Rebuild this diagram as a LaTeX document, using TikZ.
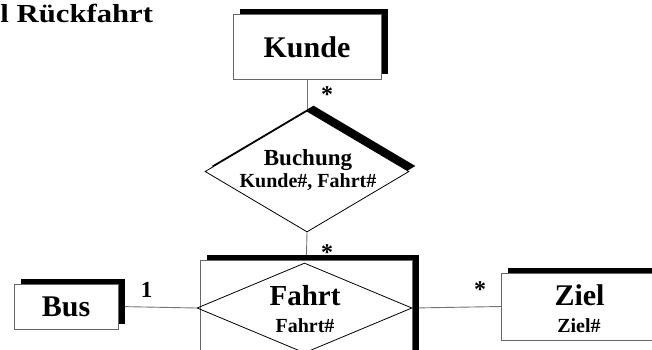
\documentclass[tikz,border=0pt]{standalone}
\usepackage{fontspec}
\setmainfont{Liberation Serif}
\usetikzlibrary{shapes.geometric,shadows,backgrounds}

\newcommand{\fsz}[1]{\fontsize{#1}{#1}\selectfont\bfseries}

\tikzset{
  hardshadow/.style={drop shadow={shadow xshift=6.5pt, shadow yshift=5.5pt,
      fill=black, opacity=1}},
  entity/.style={rectangle, draw=black!60, line width=0.9pt, fill=white,
      inner sep=0pt, hardshadow},
  relation/.style={diamond, draw=black, line width=0.8pt, fill=white,
      inner sep=0pt},
  conn/.style={draw=black!55, line width=0.9pt},
  lbl/.style={inner sep=0pt, anchor=base},
}

\begin{document}
\begin{tikzpicture}[x=1pt, y=-1pt]
  \useasboundingbox (0,0) rectangle (652,349);

  % heading
  \node[lbl, anchor=base west] (title) at (0.3,22.5)
    {\scalebox{1.18}[1]{\fsz{26}l Rückfahrt}};

  % entities
  \node[entity, minimum width=148pt, minimum height=65pt] (kunde) at (307,46.5) {};
  \node[entity, minimum width=104pt, minimum height=45pt] (bus) at (66,306.5) {};
  \node[entity, minimum width=156pt, minimum height=67pt] (ziel) at (579.7,306.5) {};
  \node[entity, minimum width=211.3pt, minimum height=139.3pt] (fahrtbox) at (306.35,330.35) {};

  % relationships
  \node[relation, hardshadow, minimum width=204pt, minimum height=121pt] (buchung) at (307,171.5) {};
  \node[relation, fill=none, minimum width=215pt, minimum height=90pt] (fahrt) at (304.5,308) {};

  % texts
  \node[lbl] (kundetxt) at (307,57) {\fsz{30}Kunde};
  \node[lbl] (bustxt) at (66,316) {\fsz{30}Bus};
  \node[lbl] (zieltxt) at (579.5,305) {\fsz{30}Ziel};
  \node[lbl] (zielkey) at (579,332) {\fsz{20}Ziel\#};
  \node[lbl] (buchungtxt) at (308,165) {\fsz{23}Buchung};
  \node[lbl] (buchungkey) at (308,187) {\fsz{20}Kunde\#, Fahrt\#};
  \node[lbl] (fahrttxt) at (305,305) {\fsz{29}Fahrt};
  \node[lbl] (fahrtkey) at (305,332) {\fsz{20}Fahrt\#};

  % cardinalities
  \node[lbl] (c1) at (327,102) {\fsz{24}*};
  \node[lbl] (c2) at (327,260.5) {\fsz{24}*};
  \node[lbl] (c3) at (146.5,297.3) {\fsz{23}1};
  \node[lbl] (c4) at (480,297.5) {\fsz{24}*};

  % connectors
  \begin{pgfonlayer}{background}
    \draw[conn] (kunde.south) -- (buchung.north);
    \draw[conn] (buchung.south) -- (fahrtbox.north);
    \draw[conn] (bus.east) -- (fahrt.west);
    \draw[conn] (fahrt.east) -- (ziel.west);
  \end{pgfonlayer}
\end{tikzpicture}
\end{document}
